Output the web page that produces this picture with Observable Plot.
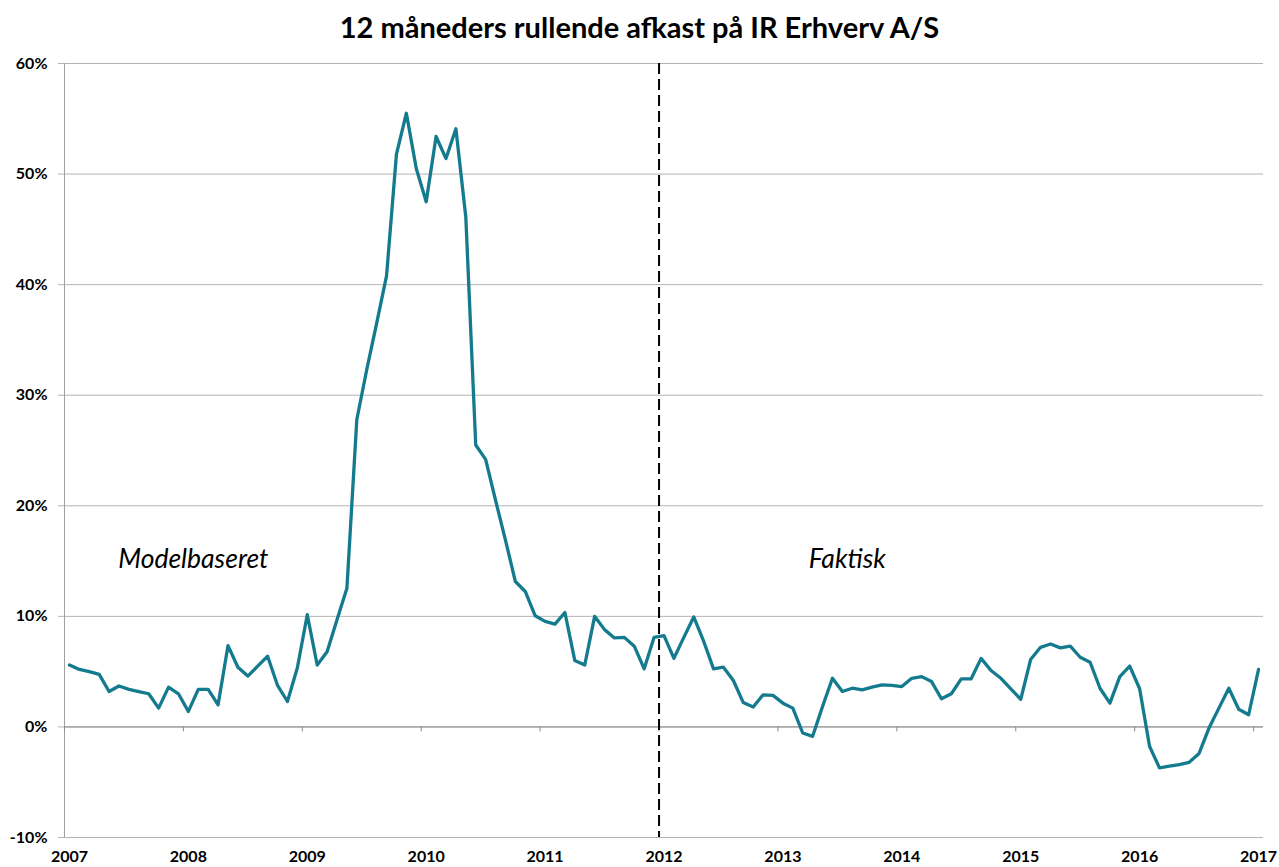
<!DOCTYPE html>
<html>
<head>
<meta charset="utf-8">
<script src="https://cdn.jsdelivr.net/npm/d3@7"></script>
<script src="https://cdn.jsdelivr.net/npm/@observablehq/plot@0.6"></script>
<style>
  html, body { margin: 0; padding: 0; background: #fff; }
  #title { height: 50px; box-sizing: border-box; padding-top: 4px; line-height: 46px; text-align: center;
           font-family: Lato, "Open Sans", sans-serif; font-weight: 700; font-size: 29px; color: #000; }
  #chart svg { display: block; }
</style>
</head>
<body>
<div id="title">12 måneders rullende afkast på IR Erhverv A/S</div>
<div id="chart"></div>
<script>
// Year tick labels (one category per month, Jan 2007 .. Jan 2017)
const years = ["2007","2008","2009","2010","2011","2012","2013","2014","2015","2016","2017"];
// 12-month rolling return, percent, monthly
const returns = [
  5.6, 5.2, 5.0, 4.75, 3.2, 3.7, 3.4, 3.2, 3.0, 1.7, 3.6, 3.0,
  1.4, 3.4, 3.4, 2.0, 7.35, 5.4, 4.6, 5.5, 6.4, 3.75, 2.3, 5.35,
  10.15, 5.6, 6.8, 9.7, 12.55, 27.8, 32.3, 36.5, 40.8, 51.8, 55.5, 50.5,
  47.5, 53.4, 51.4, 54.1, 46.1, 25.5, 24.2, 20.5, 16.9, 13.15, 12.25, 10.05,
  9.55, 9.3, 10.35, 6.0, 5.6, 10.0, 8.8, 8.05, 8.1, 7.3, 5.25, 8.1,
  8.25, 6.2, 8.1, 9.95, 7.75, 5.25, 5.4, 4.2, 2.2, 1.8, 2.9, 2.85,
  2.15, 1.7, -0.55, -0.85, 1.85, 4.4, 3.2, 3.5, 3.35, 3.6, 3.8, 3.75,
  3.65, 4.4, 4.55, 4.1, 2.55, 3.0, 4.35, 4.35, 6.2, 5.1, 4.4, 3.45,
  2.5, 6.1, 7.2, 7.5, 7.15, 7.3, 6.3, 5.85, 3.5, 2.15, 4.55, 5.5,
  3.45, -1.75, -3.7, -3.55, -3.4, -3.2, -2.4, -0.1, 1.7, 3.5, 1.6, 1.1,
  5.2
];
const yTicks = [-10, 0, 10, 20, 30, 40, 50, 60];
const splitMonth = 60; // Jan 2012: model-based before, actual after
const annotations = [
  {text: "Modelbaseret", month: 13, value: 15.1},
  {text: "Faktisk", month: 79, value: 15.1}
];

const data = returns.map((v, i) => ({m: i + 0.5, v}));
const yearStarts = years.map((y, k) => k * 12);
const yearCenters = yearStarts.map(s => s + 0.5);

const chart = Plot.plot({
  width: 1279,
  height: 817,
  marginTop: 13,
  marginBottom: 30,
  marginLeft: 64,
  marginRight: 16,
  style: {fontFamily: "Lato, 'Open Sans', sans-serif", fontSize: "16px", color: "#000", background: "#fff"},
  x: {type: "linear", domain: [0, returns.length]},
  y: {domain: [-10, 60]},
  marks: [
    Plot.gridY(yTicks, {stroke: "#b4b4b4", strokeOpacity: 1}),
    Plot.ruleY([0], {stroke: "#8c8c8c"}),
    Plot.ruleX([0], {stroke: "#a0a0a0"}),
    Plot.axisY(yTicks, {tickSize: 6, tickPadding: 11, stroke: "#b4b4b4", tickFormat: d => d + "%", fontWeight: "bold", label: null}),
    Plot.ruleX(yearStarts, {x: d => d, y1: 0, y2: 0, insetBottom: -5, stroke: "#8c8c8c"}),
    Plot.axisX(yearCenters, {tickSize: 0, tickPadding: 13, tickFormat: d => years[Math.round((d - 0.5) / 12)], fontWeight: "bold", label: null}),
    Plot.line(data, {x: "m", y: "v", stroke: "#147b8e", strokeWidth: 3.3}),
    Plot.ruleX([splitMonth], {stroke: "#000", strokeWidth: 2, strokeDasharray: "11,5"}),
    Plot.text(annotations, {x: "month", y: "value", text: "text", fontStyle: "italic", fontSize: 26.5, fill: "#000"})
  ]
});
document.getElementById("chart").appendChild(chart);
</script>
</body>
</html>
